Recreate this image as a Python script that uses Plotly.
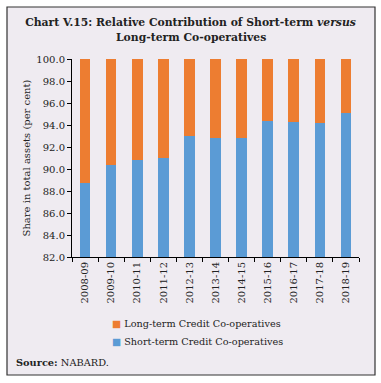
import plotly.graph_objects as go

years = ["2008-09", "2009-10", "2010-11", "2011-12", "2012-13", "2013-14",
         "2014-15", "2015-16", "2016-17", "2017-18", "2018-19"]
short_term = [88.7, 90.4, 90.8, 91.0, 93.0, 92.85, 92.8, 94.4, 94.25, 94.15, 95.05]
long_term = [round(100 - v, 2) for v in short_term]
series_names = ["Short-term Credit Co-operatives", "Long-term Credit Co-operatives"]

BLUE = "#5B9BD5"
ORANGE = "#ED7D31"
BG = "#EFEBF1"
FONT = "DejaVu Serif"

fig = go.Figure()
fig.add_trace(go.Bar(x=years, y=short_term, marker=dict(color=BLUE, line=dict(width=0)),
                     name=series_names[0], showlegend=False))
fig.add_trace(go.Bar(x=years, y=long_term, marker=dict(color=ORANGE, line=dict(width=0)),
                     name=series_names[1], showlegend=False))
# legend entries (square glyph drawn in series colour before the name)
fig.add_trace(go.Scatter(x=[None], y=[None], mode="markers",
                         marker=dict(symbol="square", size=1, color="rgba(0,0,0,0)"),
                         name=f"<span style='color:{ORANGE}'>■</span> {series_names[1]}",
                         legend="legend"))
fig.add_trace(go.Scatter(x=[None], y=[None], mode="markers",
                         marker=dict(symbol="square", size=1, color="rgba(0,0,0,0)"),
                         name=f"<span style='color:{BLUE}'>■</span> {series_names[0]}",
                         legend="legend2"))

W, H = 381, 383
L, R, T, B = 72, 22, 59, 126
pw, ph = W - L - R, H - T - B

def px(x):
    return (x - L) / pw

def py(y):
    return (H - B - y) / ph

shapes = [
    dict(type="rect", xref="paper", yref="paper", x0=px(-5), x1=px(7), y0=py(H + 10), y1=py(-10),
         fillcolor="white", line=dict(width=0), layer="above"),
    dict(type="rect", xref="paper", yref="paper", x0=px(375), x1=px(W + 5), y0=py(H + 10), y1=py(-10),
         fillcolor="white", line=dict(width=0), layer="above"),
    dict(type="rect", xref="paper", yref="paper", x0=px(-5), x1=px(W + 5), y0=py(7), y1=py(-10),
         fillcolor="white", line=dict(width=0), layer="above"),
    dict(type="rect", xref="paper", yref="paper", x0=px(-5), x1=px(W + 5), y0=py(H + 10), y1=py(375),
         fillcolor="white", line=dict(width=0), layer="above"),
    dict(type="rect", xref="paper", yref="paper", x0=px(7), x1=px(375), y0=py(375), y1=py(7),
         fillcolor="rgba(0,0,0,0)", line=dict(color="#333333", width=1.2), layer="above"),
]

leg_common = dict(orientation="v", xanchor="left", yanchor="middle",
                  bgcolor="rgba(0,0,0,0)", font=dict(size=9.7, color="#222222"),
                  itemwidth=30)

TITLE_FONT = dict(family=FONT, size=10.8, color="#222222")

fig.update_layout(
    width=W, height=H,
    margin=dict(l=L, r=R, t=T, b=B, autoexpand=False),
    paper_bgcolor=BG, plot_bgcolor=BG,
    barmode="stack", bargap=0.59,
    font=dict(family=FONT, size=10, color="#222222"),
    shapes=shapes,
    title=dict(text="<b>Chart V.15: Relative Contribution of Short-term <i>versus</i></b>",
               x=0.5, xref="container", xanchor="center", y=1 - 22 / H, yanchor="middle",
               yref="container", font=TITLE_FONT),
    xaxis=dict(type="category", showline=True, linecolor="black", linewidth=1,
               ticks="outside", tickson="boundaries", ticklen=4, tickcolor="black",
               tickangle=-90, tickfont=dict(size=10), showgrid=False, automargin=False),
    yaxis=dict(range=[82, 100], dtick=2, tickformat=".1f", showline=True,
               linecolor="black", linewidth=1, ticks="outside", ticklen=4,
               tickcolor="black", showgrid=False, zeroline=False, automargin=False,
               tickfont=dict(size=10),
               title=dict(text="Share in total assets (per cent)", standoff=3,
                          font=dict(size=10))),
    legend=dict(leg_common, x=px(72), y=py(323)),
    legend2=dict(leg_common, x=px(72), y=py(341)),
    annotations=[
        dict(text="<b>Long-term Co-operatives</b>", xref="paper", yref="paper",
             x=px(W / 2), y=py(37.5), xanchor="center", yanchor="middle",
             showarrow=False, font=TITLE_FONT),
        dict(text="<b>Source:</b> NABARD.", xref="paper", yref="paper",
             x=px(14), y=py(362), xanchor="left", yanchor="middle",
             showarrow=False, font=dict(size=9.8, color="#222222")),
    ],
)

post = "document.body.style.margin='0';document.body.style.padding='0';"
fig.write_html("out.html", post_script=post, config={"displayModeBar": False})
